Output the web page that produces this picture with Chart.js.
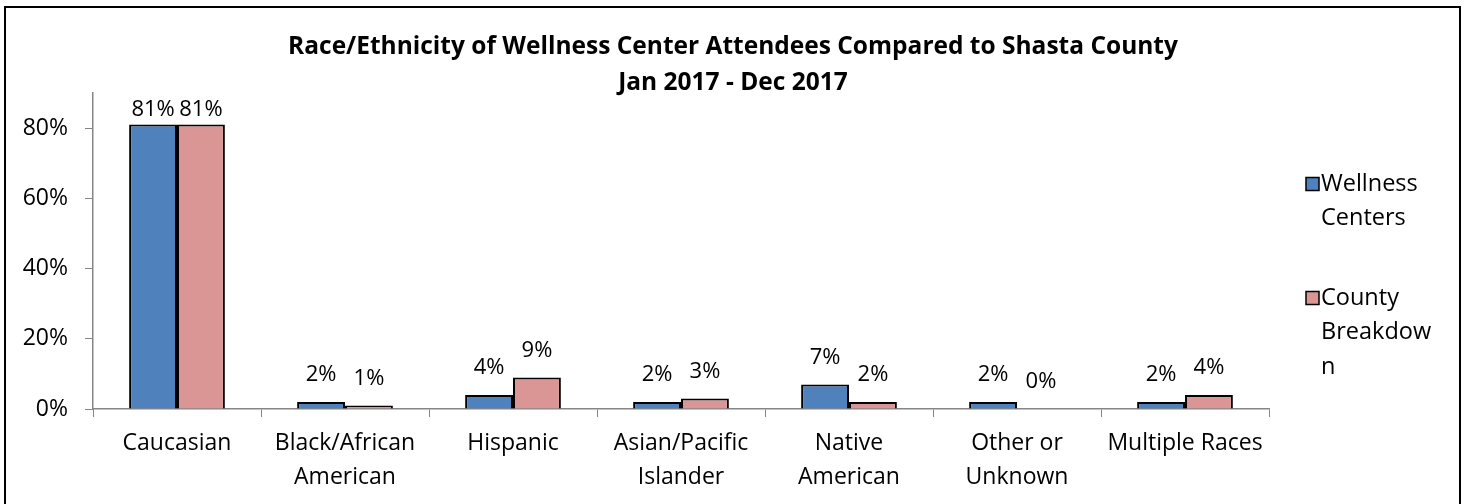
<!DOCTYPE html>
<html>
<head>
<meta charset="utf-8">
<script src="https://cdn.jsdelivr.net/npm/chart.js@4/dist/chart.umd.min.js"></script>
<style>
  html, body { margin: 0; padding: 0; background: #fff; overflow: hidden; }
  canvas { display: block; }
</style>
</head>
<body>
<canvas id="chart" width="1466" height="504"></canvas>
<script>
const titleLines = [
  'Race/Ethnicity of Wellness Center Attendees Compared to Shasta County',
  'Jan 2017 - Dec 2017'
]
const categories = [
  'Caucasian',
  ['Black/African', 'American'],
  'Hispanic',
  ['Asian/Pacific', 'Islander'],
  ['Native', 'American'],
  ['Other or', 'Unknown'],
  'Multiple Races'
]
const wellnessCenters = [81, 2, 4, 2, 7, 2, 2]
const countyBreakdown = [81, 1, 9, 3, 2, 0, 4]
const seriesNames = ['Wellness Centers', 'County Breakdown']
const legendLines = [['Wellness', 'Centers'], ['County', 'Breakdow', 'n']]
const yTicks = [0, 20, 40, 60, 80]

const FONT = '"Open Sans", Calibri, Carlito, sans-serif'
const AXIS_GREY = '#868686'

// white page + black frame round the chart (bottom edge falls off the picture)
const framePlugin = {
  id: 'frame',
  beforeDraw(chart) {
    const { ctx } = chart
    ctx.save()
    ctx.fillStyle = '#fff'
    ctx.fillRect(0, 0, chart.width, chart.height)
    ctx.strokeStyle = '#000'
    ctx.lineWidth = 2
    ctx.strokeRect(5, 7, 1455, 540)
    ctx.restore()
  }
}

// title spans the whole canvas, not just the plot + axes
const wideTitle = {
  id: 'wideTitle',
  afterLayout(chart) {
    if (chart.titleBlock) {
      chart.titleBlock.left = 0
      chart.titleBlock.right = chart.width
    }
  }
}

// value labels above each bar, like Excel's "outside end"
const valueLabels = {
  id: 'valueLabels',
  afterDatasetsDraw(chart) {
    const { ctx, chartArea } = chart
    ctx.save()
    ctx.font = '22px ' + FONT
    ctx.fillStyle = '#000'
    ctx.textAlign = 'center'
    ctx.textBaseline = 'middle'
    chart.data.datasets.forEach((ds, i) => {
      chart.getDatasetMeta(i).data.forEach((bar, j) => {
        const y = Math.max(bar.y - 27, chartArea.top + 17)
        ctx.fillText(ds.data[j] + '%', bar.x, y)
      })
    })
    ctx.restore()
  }
}

// legend on the right with wrapped text
const sideLegend = {
  id: 'sideLegend',
  afterDraw(chart) {
    const { ctx, chartArea } = chart
    const x = chartArea.right + 37
    const lineH = 34.5
    let y = 184
    ctx.save()
    ctx.font = '23.5px ' + FONT
    ctx.textBaseline = 'middle'
    ctx.textAlign = 'left'
    chart.data.datasets.forEach((ds, i) => {
      ctx.fillStyle = ds.backgroundColor
      ctx.fillRect(x, y - 6.5, 13, 13)
      ctx.strokeStyle = '#000'
      ctx.lineWidth = 1.5
      ctx.strokeRect(x, y - 6.5, 13, 13)
      ctx.fillStyle = '#000'
      legendLines[i].forEach((line, k) => {
        ctx.fillText(line, x + 15, y + k * lineH)
      })
      y += 114
    })
    ctx.restore()
  }
}

new Chart(document.getElementById('chart'), {
  type: 'bar',
  data: {
    labels: categories,
    datasets: [
      {
        label: seriesNames[0],
        data: wellnessCenters,
        backgroundColor: '#4F81BD',
        borderColor: '#000',
        borderWidth: 2,
        barPercentage: 1,
        categoryPercentage: 0.57
      },
      {
        label: seriesNames[1],
        data: countyBreakdown,
        backgroundColor: '#D99694',
        borderColor: '#000',
        borderWidth: 2,
        barPercentage: 1,
        categoryPercentage: 0.57
      }
    ]
  },
  options: {
    responsive: false,
    animation: false,
    layout: {
      padding: { left: 0, right: 197, top: 0, bottom: 0 }
    },
    scales: {
      x: {
        grid: {
          display: true,
          drawOnChartArea: false,
          drawTicks: true,
          tickLength: 8,
          color: AXIS_GREY,
          offset: true
        },
        border: { color: AXIS_GREY, width: 1.5 },
        ticks: {
          color: '#000',
          padding: 9,
          maxRotation: 0,
          autoSkip: false,
          font: { family: FONT, size: 23, lineHeight: 34 / 23 }
        },
        afterFit: scale => { scale.height = 95 }
      },
      y: {
        min: 0,
        max: 90,
        grid: {
          drawOnChartArea: false,
          drawTicks: true,
          tickLength: 8,
          color: AXIS_GREY
        },
        border: { color: AXIS_GREY, width: 1.5 },
        ticks: {
          color: '#000',
          padding: 17,
          font: { family: FONT, size: 23 },
          callback: v => v + '%'
        },
        afterBuildTicks: scale => {
          scale.ticks = yTicks.map(v => ({ value: v }))
        },
        afterFit: scale => { scale.width = 93 }
      }
    },
    plugins: {
      legend: { display: false },
      tooltip: { enabled: false },
      title: {
        display: true,
        text: titleLines,
        color: '#000',
        font: { family: FONT, size: 24.5, weight: 'bold', lineHeight: 36 / 24.5 },
        padding: { top: 29, bottom: -8 }
      }
    }
  },
  plugins: [framePlugin, wideTitle, valueLabels, sideLegend]
})
</script>
</body>
</html>
